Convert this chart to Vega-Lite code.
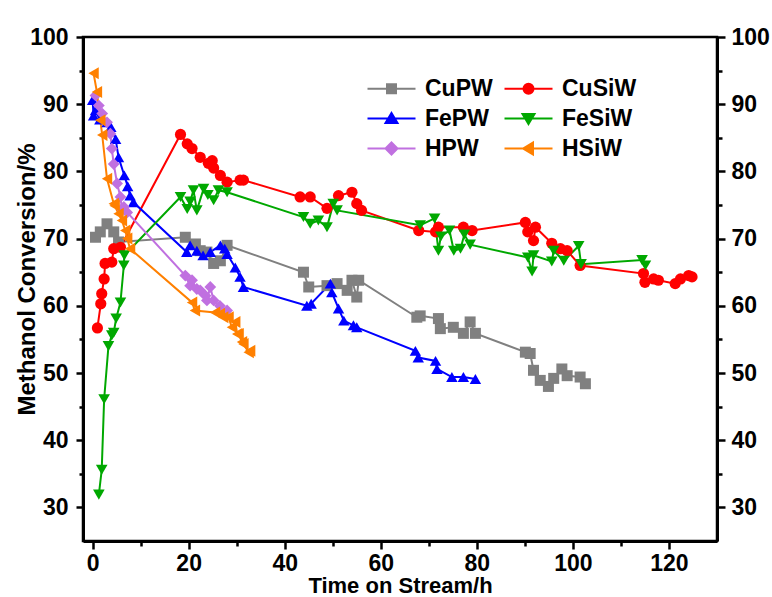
{
  "$schema": "https://vega.github.io/schema/vega-lite/v6.json",
  "width": 634,
  "height": 504,
  "autosize": {"type": "none"},
  "padding": {"left": 83, "top": 37, "right": 55, "bottom": 56},
  "background": "white",
  "config": {
    "view": {"stroke": "black", "strokeWidth": 2.5},
    "axis": {
      "domainColor": "black", "domainWidth": 3, "tickColor": "black", "tickWidth": 2.5,
      "labelFont": "Liberation Sans", "labelFontWeight": "bold", "labelFontSize": 23, "labelColor": "black",
      "titleFont": "Liberation Sans", "titleFontWeight": "bold", "titleFontSize": 23, "titleColor": "black",
      "grid": false, "labelFlush": false, "labelOverlap": false
    }
  },
  "data": {"values": [
    {"s":"CuPW","t":0.6,"v":70.2},{"s":"CuPW","t":1.6,"v":71.0},{"s":"CuPW","t":3.0,"v":72.2},{"s":"CuPW","t":4.4,"v":71.0},{"s":"CuPW","t":5.4,"v":69.5},
    {"s":"CuPW","t":19.3,"v":70.2},{"s":"CuPW","t":21.4,"v":69.2},{"s":"CuPW","t":22.4,"v":68.2},{"s":"CuPW","t":23.8,"v":68.0},{"s":"CuPW","t":25.2,"v":66.3},{"s":"CuPW","t":26.6,"v":66.7},{"s":"CuPW","t":28.0,"v":69.0},
    {"s":"CuPW","t":43.9,"v":65.0},{"s":"CuPW","t":45.0,"v":62.8},{"s":"CuPW","t":48.8,"v":63.0},{"s":"CuPW","t":50.9,"v":63.3},{"s":"CuPW","t":53.0,"v":62.3},{"s":"CuPW","t":54.0,"v":63.8},{"s":"CuPW","t":55.0,"v":61.3},{"s":"CuPW","t":55.4,"v":63.8},
    {"s":"CuPW","t":67.5,"v":58.3},{"s":"CuPW","t":68.2,"v":58.5},{"s":"CuPW","t":72.0,"v":58.1},{"s":"CuPW","t":72.4,"v":56.6},{"s":"CuPW","t":75.1,"v":56.8},{"s":"CuPW","t":77.2,"v":55.9},{"s":"CuPW","t":78.6,"v":57.6},{"s":"CuPW","t":79.7,"v":55.9},
    {"s":"CuPW","t":90.1,"v":53.1},{"s":"CuPW","t":91.1,"v":52.9},{"s":"CuPW","t":91.8,"v":50.4},{"s":"CuPW","t":93.2,"v":48.9},{"s":"CuPW","t":94.9,"v":48.0},{"s":"CuPW","t":96.0,"v":49.2},{"s":"CuPW","t":97.7,"v":50.6},{"s":"CuPW","t":98.8,"v":49.6},{"s":"CuPW","t":101.5,"v":49.4},{"s":"CuPW","t":102.6,"v":48.4},

    {"s":"CuSiW","t":1.0,"v":56.7},{"s":"CuSiW","t":1.7,"v":60.3},{"s":"CuSiW","t":1.9,"v":61.8},{"s":"CuSiW","t":2.4,"v":64.0},{"s":"CuSiW","t":2.6,"v":66.3},{"s":"CuSiW","t":4.0,"v":66.5},{"s":"CuSiW","t":4.4,"v":68.5},{"s":"CuSiW","t":5.8,"v":68.7},
    {"s":"CuSiW","t":18.3,"v":85.5},{"s":"CuSiW","t":19.7,"v":84.1},{"s":"CuSiW","t":20.7,"v":83.4},{"s":"CuSiW","t":22.4,"v":82.1},{"s":"CuSiW","t":24.1,"v":81.2},{"s":"CuSiW","t":24.9,"v":81.6},{"s":"CuSiW","t":25.2,"v":80.5},{"s":"CuSiW","t":26.6,"v":79.4},{"s":"CuSiW","t":28.0,"v":78.4},{"s":"CuSiW","t":30.7,"v":78.7},{"s":"CuSiW","t":31.4,"v":78.7},
    {"s":"CuSiW","t":43.2,"v":76.2},{"s":"CuSiW","t":45.3,"v":76.2},{"s":"CuSiW","t":48.8,"v":74.5},{"s":"CuSiW","t":51.2,"v":76.4},{"s":"CuSiW","t":54.0,"v":76.9},{"s":"CuSiW","t":55.0,"v":75.2},{"s":"CuSiW","t":56.0,"v":74.2},
    {"s":"CuSiW","t":67.9,"v":71.2},{"s":"CuSiW","t":71.4,"v":71.0},{"s":"CuSiW","t":72.0,"v":71.7},{"s":"CuSiW","t":77.2,"v":71.7},{"s":"CuSiW","t":79.0,"v":71.2},
    {"s":"CuSiW","t":90.1,"v":72.4},{"s":"CuSiW","t":90.6,"v":71.0},{"s":"CuSiW","t":91.8,"v":69.7},{"s":"CuSiW","t":92.2,"v":71.7},{"s":"CuSiW","t":95.6,"v":69.3},{"s":"CuSiW","t":97.4,"v":68.5},{"s":"CuSiW","t":98.8,"v":68.2},{"s":"CuSiW","t":101.5,"v":66.0},
    {"s":"CuSiW","t":114.7,"v":64.8},{"s":"CuSiW","t":115.0,"v":63.5},{"s":"CuSiW","t":116.8,"v":64.0},{"s":"CuSiW","t":117.8,"v":63.8},{"s":"CuSiW","t":121.3,"v":63.3},{"s":"CuSiW","t":122.4,"v":64.0},{"s":"CuSiW","t":124.1,"v":64.5},{"s":"CuSiW","t":124.8,"v":64.3},

    {"s":"FePW","t":0.0,"v":90.6},{"s":"FePW","t":0.2,"v":88.3},{"s":"FePW","t":0.6,"v":89.1},{"s":"FePW","t":1.5,"v":87.7},{"s":"FePW","t":3.0,"v":87.3},{"s":"FePW","t":3.8,"v":86.6},{"s":"FePW","t":4.8,"v":84.8},{"s":"FePW","t":5.4,"v":82.1},{"s":"FePW","t":6.6,"v":79.4},{"s":"FePW","t":7.3,"v":77.8},{"s":"FePW","t":7.8,"v":76.4},{"s":"FePW","t":8.5,"v":75.4},
    {"s":"FePW","t":19.6,"v":68.0},{"s":"FePW","t":20.3,"v":69.0},{"s":"FePW","t":21.7,"v":68.2},{"s":"FePW","t":23.0,"v":67.5},{"s":"FePW","t":24.5,"v":68.0},{"s":"FePW","t":26.6,"v":69.0},{"s":"FePW","t":27.5,"v":68.5},{"s":"FePW","t":28.0,"v":67.7},{"s":"FePW","t":29.7,"v":65.7},{"s":"FePW","t":30.7,"v":64.3},{"s":"FePW","t":31.4,"v":62.8},
    {"s":"FePW","t":44.6,"v":60.0},{"s":"FePW","t":45.5,"v":60.3},{"s":"FePW","t":49.5,"v":63.3},{"s":"FePW","t":49.8,"v":62.0},{"s":"FePW","t":51.2,"v":59.6},{"s":"FePW","t":52.3,"v":57.8},{"s":"FePW","t":54.3,"v":57.1},{"s":"FePW","t":55.0,"v":56.8},
    {"s":"FePW","t":67.2,"v":53.3},{"s":"FePW","t":67.8,"v":52.3},{"s":"FePW","t":71.4,"v":51.8},{"s":"FePW","t":71.7,"v":50.6},{"s":"FePW","t":74.8,"v":49.4},{"s":"FePW","t":77.2,"v":49.4},{"s":"FePW","t":79.7,"v":49.1},

    {"s":"FeSiW","t":1.3,"v":31.9},{"s":"FeSiW","t":1.9,"v":35.6},{"s":"FeSiW","t":2.4,"v":46.1},{"s":"FeSiW","t":3.3,"v":54.0},{"s":"FeSiW","t":4.0,"v":55.6},{"s":"FeSiW","t":4.4,"v":56.0},{"s":"FeSiW","t":4.9,"v":58.1},{"s":"FeSiW","t":5.8,"v":60.5},{"s":"FeSiW","t":6.5,"v":66.0},{"s":"FeSiW","t":6.6,"v":67.5},
    {"s":"FeSiW","t":18.3,"v":76.2},{"s":"FeSiW","t":19.7,"v":74.4},{"s":"FeSiW","t":20.3,"v":75.5},{"s":"FeSiW","t":21.0,"v":77.2},{"s":"FeSiW","t":21.7,"v":74.2},{"s":"FeSiW","t":23.1,"v":77.4},{"s":"FeSiW","t":24.0,"v":76.5},{"s":"FeSiW","t":25.2,"v":75.7},{"s":"FeSiW","t":26.2,"v":77.2},{"s":"FeSiW","t":28.0,"v":76.9},
    {"s":"FeSiW","t":43.9,"v":73.2},{"s":"FeSiW","t":45.3,"v":72.2},{"s":"FeSiW","t":47.0,"v":72.7},{"s":"FeSiW","t":48.8,"v":71.7},{"s":"FeSiW","t":50.1,"v":75.2},{"s":"FeSiW","t":50.9,"v":74.2},
    {"s":"FeSiW","t":68.2,"v":72.0},{"s":"FeSiW","t":71.2,"v":73.0},{"s":"FeSiW","t":72.0,"v":68.2},{"s":"FeSiW","t":72.5,"v":70.3},{"s":"FeSiW","t":74.3,"v":71.2},{"s":"FeSiW","t":75.2,"v":68.2},{"s":"FeSiW","t":76.6,"v":68.5},{"s":"FeSiW","t":77.4,"v":70.6},{"s":"FeSiW","t":78.6,"v":69.1},
    {"s":"FeSiW","t":90.6,"v":67.2},{"s":"FeSiW","t":91.5,"v":65.1},{"s":"FeSiW","t":91.8,"v":67.5},{"s":"FeSiW","t":95.6,"v":66.6},{"s":"FeSiW","t":96.0,"v":68.2},{"s":"FeSiW","t":98.1,"v":66.7},{"s":"FeSiW","t":101.2,"v":68.9},{"s":"FeSiW","t":101.7,"v":66.2},
    {"s":"FeSiW","t":114.4,"v":66.8},{"s":"FeSiW","t":115.1,"v":66.0},

    {"s":"HPW","t":0.6,"v":91.3},{"s":"HPW","t":1.3,"v":89.8},{"s":"HPW","t":2.0,"v":88.6},{"s":"HPW","t":3.0,"v":87.3},{"s":"HPW","t":3.7,"v":85.6},{"s":"HPW","t":4.0,"v":83.4},{"s":"HPW","t":4.4,"v":81.1},{"s":"HPW","t":5.1,"v":78.2},{"s":"HPW","t":5.8,"v":76.2},{"s":"HPW","t":6.1,"v":74.4},{"s":"HPW","t":6.5,"v":74.7},{"s":"HPW","t":7.2,"v":73.9},
    {"s":"HPW","t":19.3,"v":64.5},{"s":"HPW","t":20.3,"v":63.0},{"s":"HPW","t":20.7,"v":63.8},{"s":"HPW","t":21.7,"v":62.5},{"s":"HPW","t":22.4,"v":62.3},{"s":"HPW","t":23.5,"v":61.5},{"s":"HPW","t":23.8,"v":60.8},{"s":"HPW","t":24.5,"v":62.8},{"s":"HPW","t":25.2,"v":60.8},{"s":"HPW","t":26.5,"v":60.0},{"s":"HPW","t":28.0,"v":59.3},

    {"s":"HSiW","t":0.2,"v":94.6},{"s":"HSiW","t":0.9,"v":91.8},{"s":"HSiW","t":1.6,"v":87.6},{"s":"HSiW","t":2.0,"v":85.4},{"s":"HSiW","t":3.0,"v":78.9},{"s":"HSiW","t":4.4,"v":75.2},{"s":"HSiW","t":4.6,"v":74.9},{"s":"HSiW","t":5.4,"v":73.7},{"s":"HSiW","t":6.1,"v":72.7},{"s":"HSiW","t":6.8,"v":71.2},{"s":"HSiW","t":7.2,"v":70.0},{"s":"HSiW","t":7.8,"v":68.5},
    {"s":"HSiW","t":20.7,"v":60.5},{"s":"HSiW","t":21.3,"v":59.3},{"s":"HSiW","t":25.5,"v":59.0},{"s":"HSiW","t":26.5,"v":58.8},{"s":"HSiW","t":27.2,"v":58.3},{"s":"HSiW","t":28.3,"v":58.3},{"s":"HSiW","t":29.0,"v":56.8},{"s":"HSiW","t":29.7,"v":57.6},{"s":"HSiW","t":30.1,"v":55.8},{"s":"HSiW","t":30.4,"v":55.8},{"s":"HSiW","t":31.1,"v":54.6},{"s":"HSiW","t":31.4,"v":54.3},{"s":"HSiW","t":32.5,"v":53.1},{"s":"HSiW","t":32.8,"v":53.3}
  ]},
  "layer": [
    {
      "encoding": {
        "x": {"field": "t", "type": "quantitative",
          "scale": {"domain": [-2, 130], "nice": false, "zero": false},
          "axis": {"title": "Time on Stream/h", "values": [0,10,20,30,40,50,60,70,80,90,100,110,120],
            "labelExpr": "datum.value % 20 === 0 ? datum.label : ''",
            "tickSize": {"condition": {"test": "datum.value % 20 === 0", "value": 8}, "value": 5},
            "labelPadding": 3, "titlePadding": 0, "titleFontSize": 22}},
        "y": {"field": "v", "type": "quantitative",
          "scale": {"domain": [25, 100], "nice": false, "zero": false},
          "axis": {"title": "Methanol Conversion/%", "values": [30,35,40,45,50,55,60,65,70,75,80,85,90,95,100],
            "labelExpr": "datum.value % 10 === 0 ? datum.label : ''",
            "tickSize": {"condition": {"test": "datum.value % 10 === 0", "value": 7}, "value": 4},
            "labelPadding": 8, "titleFontSize": 24, "titleX": -44, "titleY": 242}}
      },
      "layer": [
        {"mark": {"type": "line", "strokeWidth": 2},
         "encoding": {
           "color": {"field": "s", "type": "nominal",
             "scale": {"domain": ["CuPW","FePW","HPW","CuSiW","FeSiW","HSiW"],
                       "range": ["#808080","#0000ff","#c070e0","#ff0000","#00a800","#ff8000"]},
             "legend": {
               "title": null, "orient": "none", "legendX": 297, "legendY": 40, "columns": 2,
               "columnPadding": 7, "rowPadding": 6, "symbolSize": 100, "labelOffset": 22,
               "labelFont": "Liberation Sans", "labelFontWeight": "bold", "labelFontSize": 23, "labelColor": "black",
               "symbolStrokeWidth": 2,
               "encode": {"symbols": {"update": {
                 "shape": {"signal": "datum.value === 'CuPW' ? 'M-4.8,0H4.8M-0.9,-0.9H0.9V0.9H-0.9Z' : datum.value === 'CuSiW' ? 'M-4.8,0H4.8M-1,0A1,1,0,1,1,1,0A1,1,0,1,1,-1,0Z' : datum.value === 'FePW' ? 'M-4.8,0H4.8M0,-1.1L1.2,0.9H-1.2Z' : datum.value === 'FeSiW' ? 'M-4.8,0H4.8M0,1.1L1.2,-0.9H-1.2Z' : datum.value === 'HPW' ? 'M-4.8,0H4.8M0,-1.2L1.2,0L0,1.2L-1.2,0Z' : 'M-4.8,0H4.8M-1.1,0L0.9,-1.2V1.2Z'"},
                 "fill": {"signal": "scale('color', datum.value)"}
               }}}
             }}
         }},
        {"mark": {"type": "point", "filled": true, "opacity": 1},
         "encoding": {
           "color": {"field": "s", "type": "nominal", "legend": null},
           "shape": {"field": "s", "type": "nominal", "legend": null,
             "scale": {"domain": ["CuPW","CuSiW","FePW","FeSiW","HPW","HSiW"],
                       "range": ["square","circle","triangle-up","triangle-down","diamond","triangle-left"]}},
           "size": {"field": "s", "type": "nominal", "legend": null,
             "scale": {"domain": ["CuPW","CuSiW","FePW","FeSiW","HPW","HSiW"],
                       "range": [121, 144, 180, 180, 150, 180]}}
         }}
      ]
    },
    {
      "mark": {"type": "point", "opacity": 0},
      "encoding": {
        "x": {"field": "t", "type": "quantitative"},
        "y": {"field": "v", "type": "quantitative",
          "scale": {"domain": [25, 100], "nice": false, "zero": false},
          "axis": {"orient": "right", "title": null, "values": [30,35,40,45,50,55,60,65,70,75,80,85,90,95,100],
            "labelExpr": "datum.value % 10 === 0 ? datum.label : ''",
            "tickSize": {"condition": {"test": "datum.value % 10 === 0", "value": 8}, "value": 5},
            "labelPadding": 6}}
      }
    }
  ],
  "resolve": {"scale": {"y": "independent"}}
}
